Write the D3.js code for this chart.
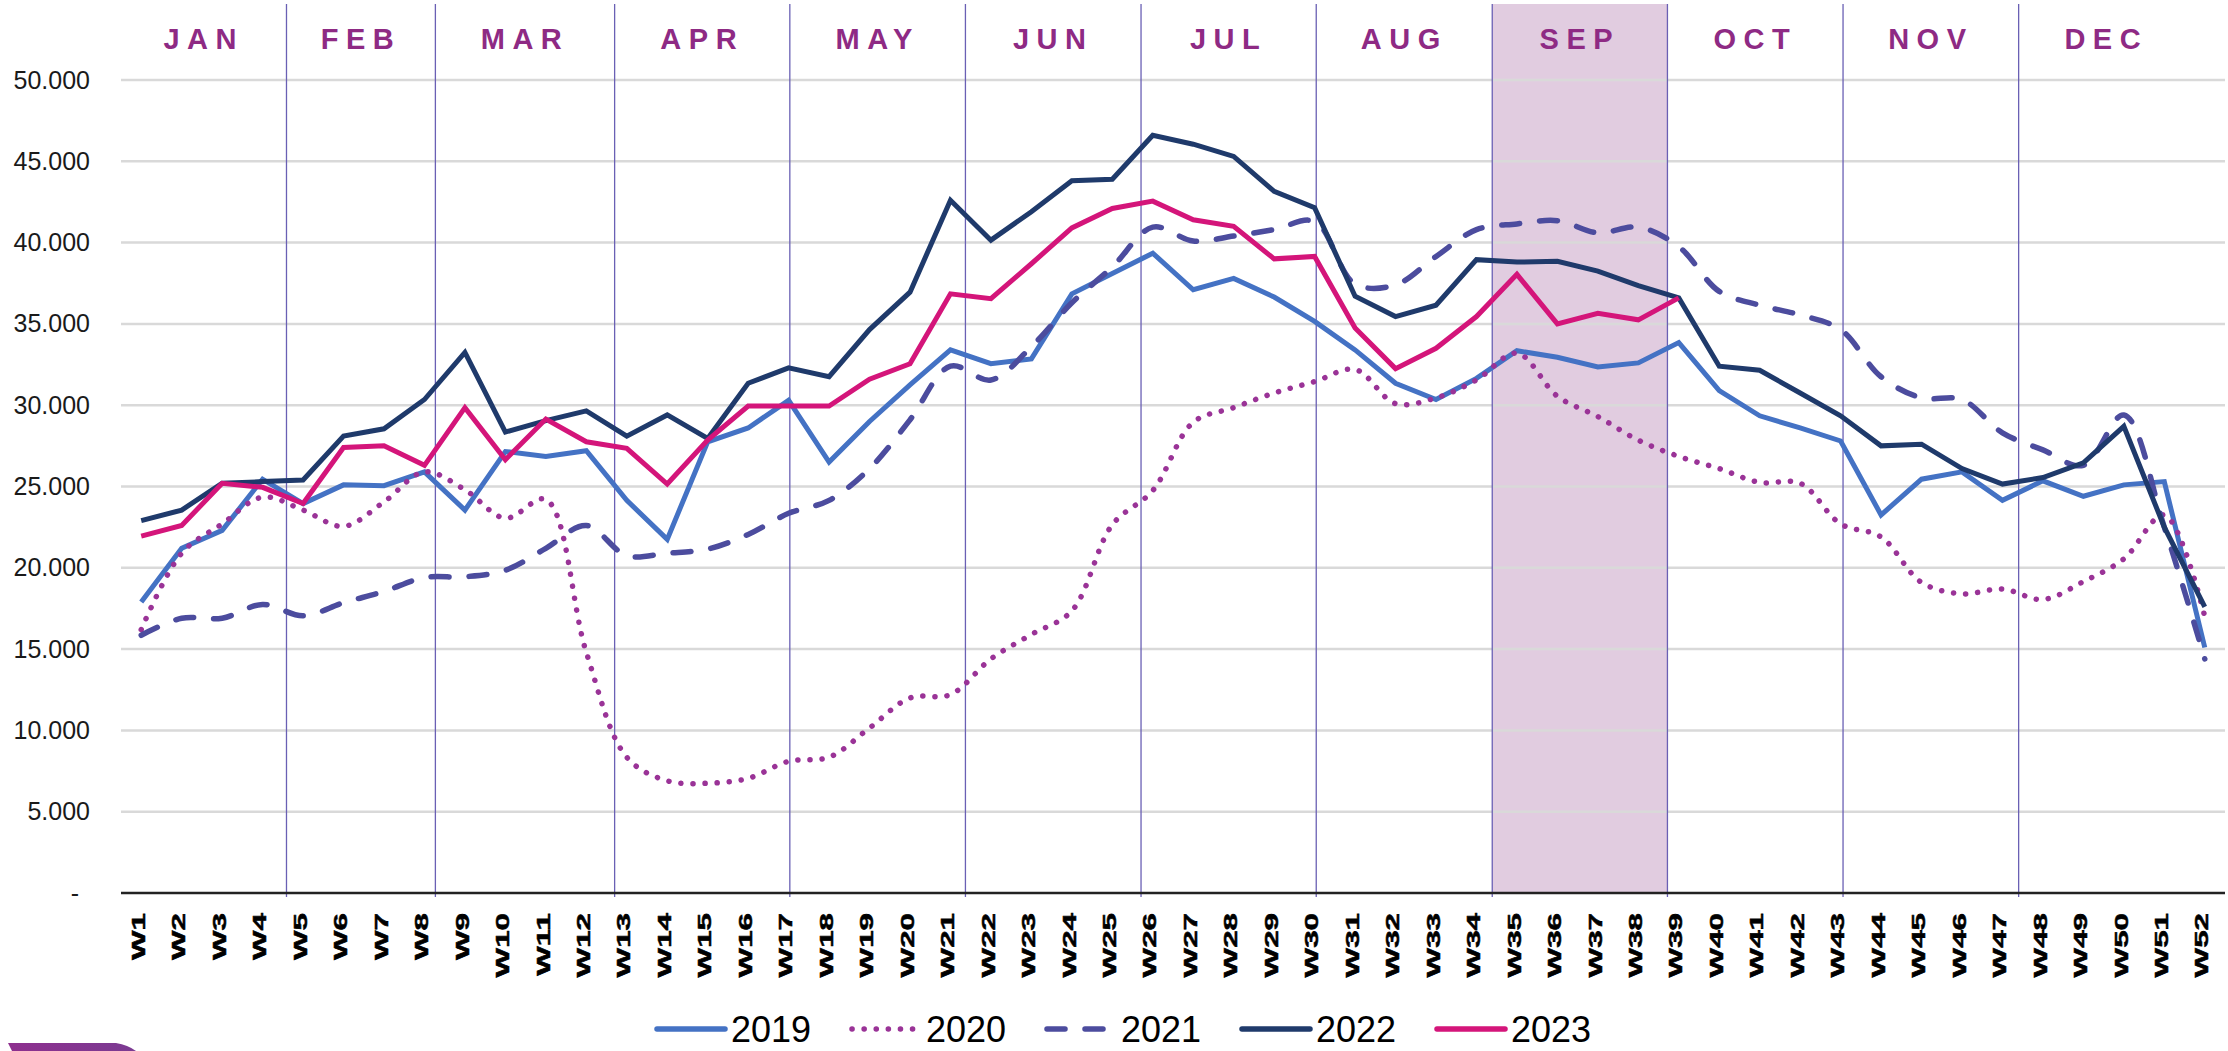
<!DOCTYPE html>
<html><head><meta charset="utf-8">
<script src="https://cdn.jsdelivr.net/npm/d3@7"></script>
<style>
html,body{margin:0;padding:0;background:#fff;}
svg{display:block;font-family:"Liberation Sans",Arial,Helvetica,sans-serif;}
</style></head><body>
<svg id="chart" width="2228" height="1051"></svg>
<script>
const weeks = ["W1","W2","W3","W4","W5","W6","W7","W8","W9","W10","W11","W12","W13","W14","W15","W16","W17","W18","W19","W20","W21","W22","W23","W24","W25","W26","W27","W28","W29","W30","W31","W32","W33","W34","W35","W36","W37","W38","W39","W40","W41","W42","W43","W44","W45","W46","W47","W48","W49","W50","W51","W52"];
const months = ["JAN","FEB","MAR","APR","MAY","JUN","JUL","AUG","SEP","OCT","NOV","DEC"];
// month boundaries expressed in weeks (0 = start of W1)
const monthBounds = [0, 4.09, 7.77, 12.20, 16.53, 20.87, 25.21, 29.54, 33.89, 38.22, 42.56, 46.90, 51.23];
const highlightMonth = "SEP";
const yTicks = [0,5000,10000,15000,20000,25000,30000,35000,40000,45000,50000];

const seriesNames = ["2019","2020","2021","2022","2023"];
const v2019 = [17900,21200,22300,25450,23950,25100,25050,25900,23550,27150,26850,27200,24150,21750,27750,28600,30300,26500,29000,31250,33400,32550,32850,36850,38100,39350,37100,37800,36650,35150,33400,31350,30350,31650,33350,32950,32350,32600,33850,30900,29350,28600,27800,23250,25450,25900,24150,25350,24400,25100,25300,15100];
const v2020 = [16200,20900,22700,24350,23550,22550,24050,25900,24800,23050,24200,14800,8350,6900,6750,7050,8100,8350,10150,12000,12200,14400,15900,17350,22650,24750,28950,29850,30750,31450,32200,30100,30450,31550,33200,30550,29300,27850,26850,26100,25250,25200,22700,21900,19100,18400,18700,18050,19150,20550,23250,17000];
const v2021 = [15850,16900,16900,17750,17050,17850,18550,19400,19450,19850,21200,22600,20750,20900,21150,22050,23350,24150,26100,29100,32400,31550,33600,36300,38500,40950,40100,40400,40800,41300,37450,37400,39150,40800,41150,41350,40600,40950,39750,37000,36150,35550,34650,31750,30450,30350,28300,27250,26300,29400,22500,14400];
const v2022 = [22900,23550,25200,25300,25400,28100,28550,30350,33250,28350,29050,29650,28100,29400,27950,31350,32300,31750,34650,36950,42600,40150,41900,43800,43900,46600,46050,45300,43150,42150,36700,35450,36150,38950,38800,38850,38250,37350,36600,32400,32150,30750,29350,27500,27600,26100,25150,25550,26450,28700,22500,17600];
const v2023 = [21950,22600,25200,24950,23950,27400,27500,26300,29850,26650,29150,27750,27350,25150,27850,29950,29950,29950,31600,32550,36850,36550,38700,40900,42100,42550,41400,41000,39000,39150,34750,32250,33500,35450,38050,35000,35650,35250,36600];

const seriesValues = [v2019, v2020, v2021, v2022, v2023];
const seriesColors = ["#4472C4","#9A3397","#4C4C9E","#1F3A6B","#D4157A"];
const seriesStyle = ["solid","dot","dash","solid","solid"];

const svg = d3.select("#chart");
const plotL = 121, plotR = 2225, plotT = 80, plotB = 893;

const x = d3.scaleBand().domain(weeks).range([plotL, plotR]).padding(0);
const xw = d3.scaleLinear().domain([0, 52]).range([plotL, plotR]);
const y = d3.scaleLinear().domain([0, 50000]).range([plotB, plotT]);

// highlight band
const hi = months.indexOf(highlightMonth);
svg.append("rect")
  .attr("x", xw(monthBounds[hi])).attr("y", 4)
  .attr("width", xw(monthBounds[hi+1]) - xw(monthBounds[hi]))
  .attr("height", plotB - 4)
  .attr("fill", "#E1CCE0");

// gridlines
svg.append("g").selectAll("line").data(yTicks.filter(d => d > 0)).join("line")
  .attr("x1", plotL).attr("x2", plotR)
  .attr("y1", d => y(d)).attr("y2", d => y(d))
  .attr("stroke", "#D9D9D9").attr("stroke-width", 2.5);

// month dividers
svg.append("g").selectAll("line").data(monthBounds.slice(1, 12)).join("line")
  .attr("x1", d => xw(d)).attr("x2", d => xw(d))
  .attr("y1", 4).attr("y2", plotB + 4)
  .attr("stroke", "#6A60B4").attr("stroke-width", 1.3);

// month labels
svg.append("g").selectAll("text").data(months).join("text")
  .attr("x", (d, i) => xw((monthBounds[i] + monthBounds[i+1]) / 2))
  .attr("y", 49)
  .attr("text-anchor", "middle")
  .attr("font-size", 29).attr("font-weight", "bold")
  .attr("letter-spacing", "7.5px")
  .attr("fill", "#8E2A84")
  .text(d => d);

// y axis
const yAxis = svg.append("g").attr("transform", `translate(${plotL},0)`)
  .call(d3.axisLeft(y).tickValues(yTicks).tickSize(0).tickPadding(31)
    .tickFormat(d => d === 0 ? "-" : d3.format(",")(d).replace(/,/g, ".")));
yAxis.select(".domain").remove();
yAxis.selectAll("text").attr("font-size", 25).attr("fill", "#1a1a1a")
  .attr("font-family", "'Liberation Sans', Arial, sans-serif");
yAxis.selectAll("text").filter(d => d === 0).attr("dx", -11);

// x axis labels
const xAxis = svg.append("g").attr("transform", `translate(0,${plotB})`)
  .call(d3.axisBottom(x).tickSize(0));
xAxis.select(".domain").remove();
xAxis.selectAll("text")
  .attr("x", null).attr("y", null).attr("dy", "0.35em")
  .attr("text-anchor", "end")
  .attr("transform", "translate(-3,20) rotate(-90) scale(1.65,1)")
  .attr("font-size", 19).attr("font-weight", "bold").attr("fill", "#000")
  .attr("stroke", "#000").attr("stroke-width", 0.5)
  .attr("font-family", "'Liberation Sans', Arial, sans-serif");

// axis line
svg.append("line").attr("x1", plotL).attr("x2", plotR)
  .attr("y1", plotB).attr("y2", plotB)
  .attr("stroke", "#222").attr("stroke-width", 2.5);

// series lines
function styleLine(sel, i) {
  sel.attr("fill", "none").attr("stroke", seriesColors[i]);
  if (seriesStyle[i] === "dot") {
    sel.attr("stroke-width", 5.5).attr("stroke-dasharray", "0.1 12").attr("stroke-linecap", "round");
  } else if (seriesStyle[i] === "dash") {
    sel.attr("stroke-width", 5.5).attr("stroke-dasharray", "18 20").attr("stroke-linecap", "round");
  } else {
    sel.attr("stroke-width", 5).attr("stroke-linejoin", "miter").attr("stroke-linecap", "butt");
  }
}
seriesValues.forEach((vals, i) => {
  const line = d3.line()
    .defined(d => d != null)
    .x((d, j) => x(weeks[j]) + x.bandwidth() / 2)
    .y(d => y(d))
    .curve(seriesStyle[i] === "solid" ? d3.curveLinear : d3.curveCatmullRom.alpha(0.5));
  svg.append("path").attr("d", line(vals)).call(styleLine, i);
});

// legend
const legend = svg.append("g");
seriesNames.forEach((name, i) => {
  const g = legend.append("g").attr("transform", `translate(${655 + i * 195},1029)`);
  const l = g.append("line").attr("x1", 2).attr("x2", 70).attr("y1", 0).attr("y2", 0);
  styleLine(l, i);
  if (seriesStyle[i] === "solid") l.attr("stroke-linecap", "round").attr("stroke-width", 5.5);
  g.append("text").attr("x", 76).attr("y", 0).attr("dy", "0.36em")
    .attr("font-size", 36).attr("fill", "#000").text(name);
});

// corner brand shape
const defs = svg.append("defs");
const grad = defs.append("linearGradient").attr("id", "brand").attr("x1", "0").attr("x2", "1");
grad.append("stop").attr("offset", "0").attr("stop-color", "#8E2F8E");
grad.append("stop").attr("offset", "1").attr("stop-color", "#7B3B92");
svg.append("path").attr("d", "M8,1043 L116,1043 Q128,1045 136,1051 L12,1051 Z").attr("fill", "url(#brand)");
</script>
</body></html>
